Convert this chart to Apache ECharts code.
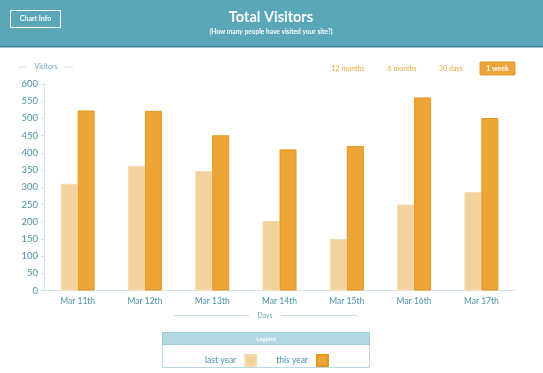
<!DOCTYPE html>
<html><head><meta charset="utf-8">
<script src="https://cdn.jsdelivr.net/npm/echarts@6/dist/echarts.min.js"></script>
<style>html,body{margin:0;padding:0;background:#fff}#c{width:543px;height:373px}</style>
</head><body><div id="c"></div>
<script>
const categories = ['Mar 11th','Mar 12th','Mar 13th','Mar 14th','Mar 15th','Mar 16th','Mar 17th'];
const lastYear = [310, 362, 347, 202, 150, 250, 286];
const thisYear = [523, 522, 451, 410, 420, 561, 501];
const yTicks = {min: 0, max: 600, interval: 50};
const rangeButtons = ['12 months', '6 months', '30 days', '1 week'];

const F = 'Lato, "Noto Sans", sans-serif';
const teal = '#4a93ab';
const chart = echarts.init(document.getElementById('c'), null, {renderer: 'canvas'});

const btnX = [348, 402, 451];
const gfx = [
  {type:'rect', shape:{x:0,y:0,width:543,height:46}, style:{fill:'#5ba7ba'}, silent:true},
  {type:'rect', shape:{x:0,y:46,width:543,height:1.5}, style:{fill:'#3f8495'}, silent:true},
  {type:'rect', shape:{x:10.5,y:10.5,width:50,height:17}, style:{fill:'none',stroke:'#ffffff',lineWidth:1}},
  {type:'text', x:35.5, y:19, style:{text:'Chart Info', fill:'#fff', font:'bold 7px '+F, align:'center', verticalAlign:'middle'}},
  {type:'text', x:271, y:17, style:{text:'Total Visitors', fill:'#fff', font:'bold 14.5px '+F, align:'center', verticalAlign:'middle'}},
  {type:'text', x:271, y:32, style:{text:'(How many people have visited your site?)', fill:'#fff', font:'bold 6.6px '+F, align:'center', verticalAlign:'middle'}},
  // Visitors axis name
  {type:'rect', shape:{x:18,y:66.5,width:9,height:1}, style:{fill:'#c5e0e7'}},
  {type:'rect', shape:{x:64,y:66.5,width:9,height:1}, style:{fill:'#c5e0e7'}},
  {type:'text', x:46, y:67, style:{text:'Visitors', fill:'#6fa9bb', font:'7px '+F, align:'center', verticalAlign:'middle'}},
  // Days axis name
  {type:'rect', shape:{x:174,y:315,width:75,height:1}, style:{fill:'#c5e0e7'}},
  {type:'rect', shape:{x:281,y:315,width:76,height:1}, style:{fill:'#c5e0e7'}},
  {type:'text', x:265, y:315.5, style:{text:'Days', fill:'#6fa9bb', font:'7px '+F, align:'center', verticalAlign:'middle'}},
  // range buttons
  {type:'text', x:btnX[0], y:68.5, style:{text:rangeButtons[0], fill:'#eda53a', font:'7px '+F, align:'center', verticalAlign:'middle'}},
  {type:'text', x:btnX[1], y:68.5, style:{text:rangeButtons[1], fill:'#eda53a', font:'7px '+F, align:'center', verticalAlign:'middle'}},
  {type:'text', x:btnX[2], y:68.5, style:{text:rangeButtons[2], fill:'#eda53a', font:'7px '+F, align:'center', verticalAlign:'middle'}},
  {type:'rect', shape:{x:480,y:62,width:35,height:13,r:1}, style:{fill:'#eda53a', stroke:'#e2962a', lineWidth:1}},
  {type:'text', x:497.5, y:68.5, style:{text:rangeButtons[3], fill:'#fff', font:'bold 7px '+F, align:'center', verticalAlign:'middle'}},
  // legend box
  {type:'rect', shape:{x:162.5,y:332.5,width:207,height:35}, style:{fill:'#fff', stroke:'#b7dbe3', lineWidth:1}},
  {type:'rect', shape:{x:162.5,y:332.5,width:207,height:12}, style:{fill:'#b3d8e1', stroke:'#9fcbd6', lineWidth:1}},
  {type:'text', x:266, y:338.8, style:{text:'Legend', fill:'#fff', font:'bold 6px '+F, align:'center', verticalAlign:'middle'}}
];

chart.setOption({
  animation: false,
  textStyle: {fontFamily: F},
  graphic: gfx,
  grid: {left: 44, right: 28, top: 84, bottom: 82.5, containLabel: false},
  legend: {
    left: 200, top: 349, itemWidth: 11, itemHeight: 11, itemGap: 19, align: 'right',
    icon: 'rect',
    textStyle: {color: '#4a93ab', fontSize: 8.5, fontFamily: F, padding:[0,4,0,0]},
    data: ['last year', 'this year']
  },
  xAxis: {
    type: 'category', data: categories,
    axisLine: {lineStyle: {color: '#cfe5eb', width: 1}},
    axisTick: {alignWithLabel: true, length: 3, lineStyle: {color: '#cfe5eb'}},
    axisLabel: {color: teal, fontSize: 8.5, fontFamily: F, margin: 6}
  },
  yAxis: {
    type: 'value', min: yTicks.min, max: yTicks.max, interval: yTicks.interval,
    splitLine: {show: false},
    axisLine: {show: true, lineStyle: {color: '#cfe5eb', width: 1}},
    axisTick: {show: true, length: 3, lineStyle: {color: '#cfe5eb'}},
    axisLabel: {color: teal, fontSize: 9.5, fontFamily: F, margin: 6}
  },
  series: [
    {name: 'last year', type: 'bar', data: lastYear, barWidth: 17, barGap: '0%',
      itemStyle: {color: '#f4d29e', borderColor: '#f7dcb2', borderWidth: 1}},
    {name: 'this year', type: 'bar', data: thisYear, barWidth: 17,
      itemStyle: {color: '#eda537', borderColor: '#e8961c', borderWidth: 1}}
  ]
});
</script></body></html>
